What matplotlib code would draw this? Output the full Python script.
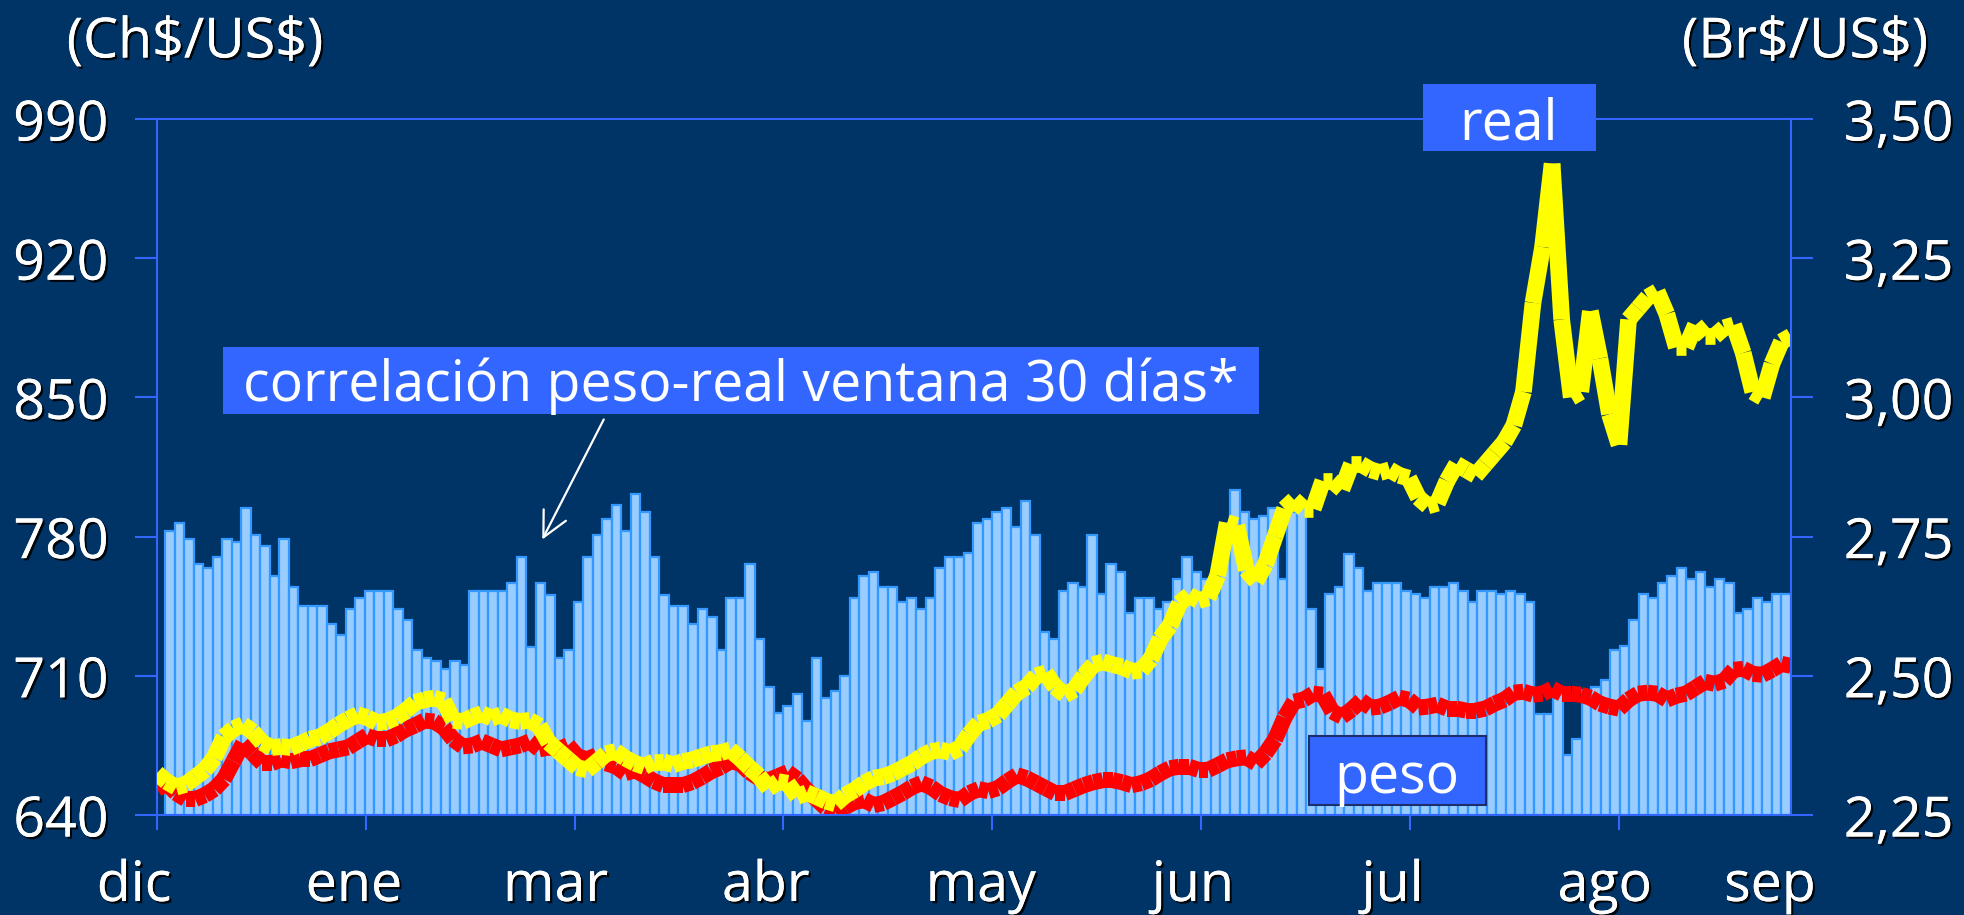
import numpy as np
import matplotlib
matplotlib.use("Agg")
import matplotlib.pyplot as plt
from matplotlib.collections import LineCollection
from matplotlib.patches import Rectangle
import matplotlib.patheffects as pe

plt.rcParams['font.family'] = ['Open Sans', 'DejaVu Sans']
plt.rcParams['text.parse_math'] = False

# ---------------- data ----------------
real_brl = [
    2.325, 2.31, 2.30, 2.305, 2.318, 2.331, 2.353, 2.39, 2.405, 2.412,
    2.40, 2.38, 2.371, 2.373, 2.371, 2.378, 2.386, 2.39, 2.40, 2.412,
    2.422, 2.43, 2.425, 2.416, 2.418, 2.425, 2.437, 2.452, 2.457, 2.46,
    2.455, 2.42, 2.418, 2.426, 2.432, 2.424, 2.43, 2.421, 2.418, 2.42,
    2.41, 2.38, 2.365, 2.35, 2.335, 2.331, 2.345, 2.36, 2.364, 2.352,
    2.343, 2.337, 2.346, 2.346, 2.340, 2.346, 2.349, 2.355, 2.36, 2.362,
    2.367, 2.352, 2.335, 2.32, 2.298, 2.31, 2.307, 2.283, 2.29, 2.283,
    2.275, 2.27, 2.285, 2.295, 2.307, 2.316, 2.319, 2.325, 2.334, 2.343,
    2.355, 2.364, 2.367, 2.362, 2.37, 2.395, 2.415, 2.42, 2.43, 2.45,
    2.47, 2.48, 2.50, 2.505, 2.48, 2.466, 2.475, 2.50, 2.52, 2.525,
    2.52, 2.516, 2.508, 2.51, 2.53, 2.567, 2.59, 2.63, 2.645, 2.635,
    2.64, 2.68, 2.775, 2.77, 2.69, 2.67, 2.70, 2.75, 2.80, 2.816,
    2.80, 2.80, 2.85, 2.85, 2.835, 2.88, 2.88, 2.87, 2.865, 2.87,
    2.86, 2.855, 2.82, 2.805, 2.81, 2.85, 2.88, 2.87, 2.86, 2.88,
    2.90, 2.92, 2.95, 3.01, 3.17, 3.27, 3.42, 3.14, 3.00, 3.01,
    3.155, 3.07, 2.97, 2.915, 3.14, 3.16, 3.18, 3.19, 3.15, 3.09,
    3.09, 3.13, 3.11, 3.11, 3.125, 3.13, 3.08, 3.01, 3.00, 3.06,
    3.10, 3.11,
]

peso_clp = [
    653, 656, 651, 648, 648, 650, 653, 658, 667, 676,
    671, 666, 666, 668, 667, 668, 668, 670, 672, 673,
    674, 677, 680, 678, 678, 680, 683, 685, 687.5, 687,
    684, 678, 674.5, 675, 677, 675, 673, 674, 675, 677,
    673, 674, 673, 675, 669.5, 668, 670, 666, 664.5, 661,
    662.5, 660, 657, 655, 655, 655, 656.5, 659, 662, 664,
    667, 666, 661.5, 658.5, 657.5, 659.5, 661.5, 658, 652.5, 648,
    643.5, 641.5, 644, 646.5, 647.5, 645, 646, 648.5, 651, 654,
    656, 654, 650.5, 648.5, 647.5, 651, 653, 652, 653.5, 657,
    660, 658.5, 656, 653.5, 651, 651, 653, 655, 656.5, 657.5,
    657.5, 656.5, 655, 656, 658, 661, 663.5, 664.3, 664.3, 662.7,
    662.7, 665, 667.5, 668.5, 669, 666, 671, 678, 689, 697,
    698, 701, 700.5, 692, 689.5, 693, 697.5, 694, 694.5, 696.5,
    699, 698, 694, 694.5, 695.5, 693.5, 693.5, 692.5, 692.5, 693.5,
    696, 698, 701.5, 702, 700.5, 701, 703.5, 701, 701, 700.5,
    699, 696, 694.5, 693.5, 698, 701, 701.5, 701, 698, 700,
    701, 704, 707, 706, 707.5, 713, 713.5, 711, 710.5, 713,
    716, 715,
]

correlacion = [
    0.816, 0.838, 0.794, 0.721, 0.709, 0.740, 0.794, 0.785, 0.881, 0.806,
    0.774, 0.688, 0.794, 0.656, 0.600, 0.600, 0.600, 0.549, 0.516, 0.591,
    0.625, 0.645, 0.645, 0.645, 0.591, 0.560, 0.474, 0.452, 0.443, 0.419,
    0.443, 0.430, 0.645, 0.645, 0.645, 0.645, 0.666, 0.740, 0.484, 0.666,
    0.633, 0.452, 0.474, 0.613, 0.740, 0.805, 0.850, 0.891, 0.816, 0.922,
    0.870, 0.740, 0.633, 0.600, 0.600, 0.549, 0.591, 0.570, 0.474, 0.623,
    0.623, 0.721, 0.507, 0.367, 0.292, 0.313, 0.347, 0.271, 0.452, 0.335,
    0.356, 0.399, 0.623, 0.688, 0.697, 0.655, 0.655, 0.613, 0.623, 0.591,
    0.623, 0.709, 0.740, 0.740, 0.752, 0.838, 0.850, 0.870, 0.881, 0.828,
    0.901, 0.806, 0.527, 0.507, 0.645, 0.666, 0.655, 0.805, 0.634, 0.721,
    0.697, 0.580, 0.623, 0.623, 0.591, 0.613, 0.677, 0.740, 0.697, 0.677,
    0.63, 0.78, 0.934, 0.870, 0.850, 0.860, 0.882, 0.677, 0.87, 0.89,
    0.593, 0.419, 0.634, 0.655, 0.751, 0.710, 0.645, 0.666, 0.666, 0.666,
    0.645, 0.634, 0.624, 0.655, 0.655, 0.666, 0.645, 0.612, 0.645, 0.645,
    0.634, 0.645, 0.634, 0.612, 0.289, 0.289, 0.351, 0.172, 0.217, 0.358,
    0.368, 0.388, 0.475, 0.486, 0.560, 0.634, 0.624, 0.666, 0.688, 0.710,
    0.677, 0.699, 0.655, 0.677, 0.666, 0.580, 0.593, 0.624, 0.612, 0.634,
    0.634,
]

month_labels = ['dic', 'ene', 'mar', 'abr', 'may', 'jun', 'jul', 'ago', 'sep']
left_ticks = [640, 710, 780, 850, 920, 990]
right_ticks = [2.25, 2.50, 2.75, 3.00, 3.25, 3.50]
right_ticklabels = ['2,25', '2,50', '2,75', '3,00', '3,25', '3,50']

# ---------------- style ----------------
BG = '#003366'
AXC = '#3366ff'
BAR_FACE = '#99ccff'
BAR_EDGE = '#3399ff'
BOX = '#3366ff'
W, H = 1965, 915
shadow = [pe.withSimplePatchShadow(offset=(1.6, -1.6), shadow_rgbFace='black', alpha=0.9), pe.Normal()]

fig = plt.figure(figsize=(W / 100, H / 100), dpi=100, facecolor=BG)
rect = [157 / W, (H - 815) / H, (1791 - 157) / W, (815 - 119) / H]

n = len(real_brl)
xs = np.arange(n)
xmax = n - 1

# bars (hidden scale)
axb = fig.add_axes(rect, zorder=1)
axb.set_facecolor(BG)
nb = len(correlacion)
x0b = 0.84
step = (xmax - x0b) / nb
lefts = x0b + step * np.arange(nb)
axb.bar(lefts, correlacion, width=step, align='edge', color=BAR_FACE,
        edgecolor=BAR_EDGE, linewidth=1.6)
axb.set_xlim(0, xmax)
axb.set_ylim(0, 2)
axb.axis('off')

# left axis: peso
ax = fig.add_axes(rect, zorder=2)
ax.patch.set_visible(False)
ax.set_xlim(0, xmax)
ax.set_ylim(640, 990)
pts = np.column_stack([xs, peso_clp])
segs = np.stack([pts[:-1], pts[1:]], axis=1)
lc = LineCollection(segs, colors='#ff0000', linewidths=11.5, capstyle='butt')
ax.add_collection(lc)

# right axis: real
ax2 = fig.add_axes(rect, zorder=3)
ax2.patch.set_visible(False)
ax2.set_xlim(0, xmax)
ax2.set_ylim(2.25, 3.50)
pts2 = np.column_stack([xs, real_brl])
segs2 = np.stack([pts2[:-1], pts2[1:]], axis=1)
lc2 = LineCollection(segs2, colors='#ffff00', linewidths=12, capstyle='butt')
ax2.add_collection(lc2)

for s in ['left', 'top', 'bottom']:
    ax.spines[s].set_color(AXC)
    ax.spines[s].set_linewidth(1.5)
ax.spines['right'].set_visible(False)
for s in ['left', 'top', 'bottom']:
    ax2.spines[s].set_visible(False)
ax2.spines['right'].set_color(AXC)
ax2.spines['right'].set_linewidth(1.5)

ax.set_yticks(left_ticks)
ax.set_yticklabels([str(v) for v in left_ticks])
ax.tick_params(axis='y', direction='out', length=16, width=1.5, color=AXC,
               labelsize=40, labelcolor='white', pad=19)
tick_pos = np.arange(8) * 21.85
ax.set_xticks(tick_pos)
ax.set_xticklabels([''] * len(tick_pos))
ax.tick_params(axis='x', direction='out', length=11, width=1.5, color=AXC)

ax2.yaxis.tick_right()
ax2.set_yticks(right_ticks)
ax2.set_yticklabels(right_ticklabels)
ax2.set_xticks([])
ax2.tick_params(axis='y', direction='out', length=16, width=1.5, color=AXC,
                labelsize=40, labelcolor='white', pad=22)

for lbl in ax.get_yticklabels() + ax2.get_yticklabels():
    lbl.set_path_effects(shadow)

label_pos = [-2.4, 20.6, 41.7, 63.7, 86.2, 108.4, 129.3, 151.5, 168.8]
for xp, lab in zip(label_pos, month_labels):
    ax.text(xp, -0.1235, lab, transform=ax.get_xaxis_transform(), ha='center',
            va='baseline', fontsize=40, color='white', path_effects=shadow,
            clip_on=False)

# axis unit titles
fig.text(195 / W, 1 - 43 / H, '(Ch$/US$)', ha='center', va='center',
         fontsize=40, color='white', path_effects=shadow)
fig.text(1805 / W, 1 - 43 / H, '(Br$/US$)', ha='center', va='center',
         fontsize=40, color='white', path_effects=shadow)


def label_box(x1, y1, x2, y2, text, tx, ty, edge=None):
    r = Rectangle((x1 / W, 1 - y2 / H), (x2 - x1) / W, (y2 - y1) / H,
                  transform=fig.transFigure, facecolor=BOX,
                  edgecolor=edge if edge else BOX, linewidth=1.5 if edge else 0,
                  zorder=10)
    fig.add_artist(r)
    fig.text(tx / W, 1 - ty / H, text, ha='center', va='baseline', fontsize=40,
             color='white', zorder=11)


label_box(1423, 84, 1596, 151, 'real', 1509, 140)
label_box(1309, 736, 1486, 805, 'peso', 1397, 793, edge='#1a2f6b')
label_box(223, 347, 1259, 414, 'correlación peso-real ventana 30 días*', 741, 401)

ax.annotate('', xy=(541, H - 542), xytext=(605, H - 417), xycoords='figure pixels',
            textcoords='figure pixels',
            arrowprops=dict(arrowstyle='->,head_length=0.9,head_width=0.45',
                            color='white', lw=1.6, mutation_scale=20),
            annotation_clip=False, zorder=12)

fig.savefig('out.png', dpi=100, facecolor=BG)
